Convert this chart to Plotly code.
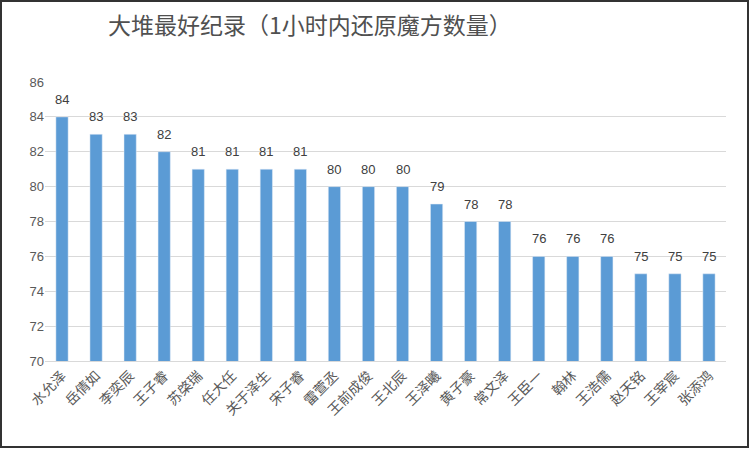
import plotly.graph_objects as go

names = ["水允泽", "岳倩如", "李奕辰", "王子睿", "苏棨瑞", "任大任", "关于泽生",
         "宋子睿", "雷萱丞", "王前成俊", "王北辰", "王泽曦", "黄子豪", "常文泽",
         "王臣一", "翰林", "王浩儒", "赵天铭", "王宰宸", "张添鸿"]
scores = [84, 83, 83, 82, 81, 81, 81, 81, 80, 80, 80, 79, 78, 78,
          76, 76, 76, 75, 75, 75]

W, H = 750, 449
L, R, T, B = 45, 24, 82, 88
pw, ph = W - L - R, H - T - B

fig = go.Figure()
fig.add_trace(go.Bar(x=names, y=scores, marker_color="#5B9BD5"))

# value labels sit a bit higher above the bars than plotly's outside text
for n, s in zip(names, scores):
    fig.add_annotation(x=n, y=s, text=str(s), showarrow=False,
                       yanchor="bottom", yshift=8,
                       font=dict(size=13, color="#404040", family="Liberation Sans"))

fig.update_layout(
    width=W, height=H,
    margin=dict(l=L, r=R, t=T, b=B),
    paper_bgcolor="white", plot_bgcolor="white",
    bargap=0.64,
    showlegend=False,
    font=dict(family="Noto Sans CJK SC", color="#595959"),
    title=dict(text="大堆最好纪录（1小时内还原魔方数量）",
               x=310 / W, xanchor="center", y=1 - 26 / H, yanchor="middle",
               font=dict(size=23, color="#505050", family="Noto Sans CJK SC")),
)
fig.update_xaxes(tickangle=-45, tickfont=dict(size=14, color="#595959"),
                 showline=True, linecolor="#D9D9D9", ticks="")
fig.update_yaxes(range=[70, 86], dtick=2, showgrid=True, gridcolor="#D9D9D9",
                 zeroline=False, ticks="",
                 tickfont=dict(size=13, color="#595959", family="Liberation Sans"))

# frame around the whole chart
fig.add_shape(type="rect", xref="paper", yref="paper",
              x0=(1 - L) / pw, x1=(W - 2 - L) / pw,
              y0=-(B - 2) / ph, y1=(ph + T - 1) / ph,
              line=dict(color="#333333", width=2), layer="above")

fig.write_html("out.html", config={"displayModeBar": False},
               post_script="document.body.style.margin='0';")
